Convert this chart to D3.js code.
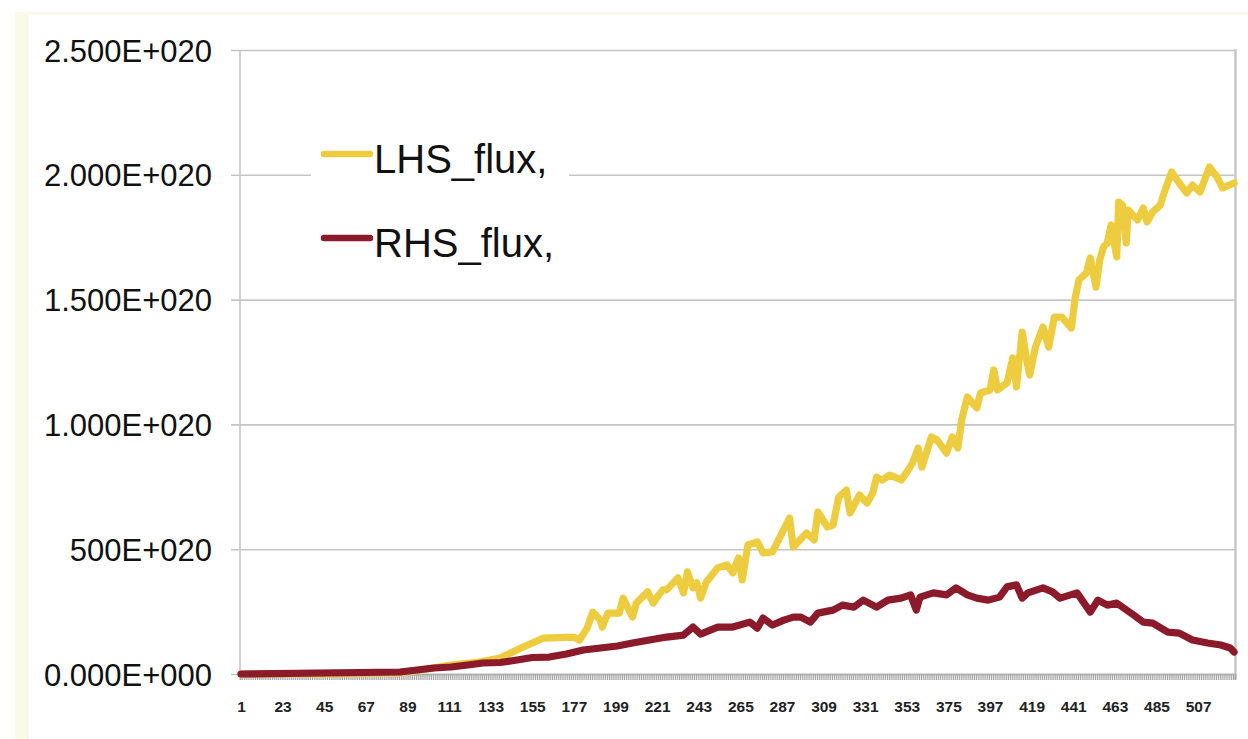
<!DOCTYPE html>
<html>
<head>
<meta charset="utf-8">
<script src="https://cdn.jsdelivr.net/npm/d3@7"></script>
<style>
  html, body { margin: 0; padding: 0; background: #ffffff; }
  svg { display: block; }
</style>
</head>
<body>
<svg id="chart" width="1248" height="739"></svg>
<script>
// ---------------- DATA ----------------
const N_CATEGORIES = 526;
const xTickLabels = [1, 23, 45, 67, 89, 111, 133, 155, 177, 199, 221, 243, 265, 287,
                     309, 331, 353, 375, 397, 419, 441, 463, 485, 507];
const UNIT = 1e20;
const yTickValues = [0, 0.5, 1.0, 1.5, 2.0, 2.5];           // x 1e20
const yTickLabels = ["0.000E+000", "500E+020", "1.000E+020", "1.500E+020", "2.000E+020", "2.500E+020"];
const seriesNames = ["LHS_flux,", "RHS_flux,"];
const seriesColors = ["#edcd3f", "#8b1a2a"];

// LHS_flux (values x 1e20) at category numbers
const lhsCat = [1, 48, 69, 85, 96, 112, 127, 138, 149, 155, 161, 177, 180, 184, 187,
  191, 192, 195, 201, 203, 208, 210, 216, 219, 221, 224, 226, 232, 235, 237,
  240, 242, 244, 247, 253, 258, 261, 264, 266, 269, 274, 277, 282, 286, 291,
  293, 300, 304, 306, 311, 314, 317, 321, 323, 328, 332, 335, 337, 340, 344,
  350, 353, 356, 359, 361, 366, 369, 374, 377, 380, 382, 385, 390, 392, 397,
  399, 401, 406, 409, 411, 414, 417, 418, 421, 425, 428, 431, 435, 440, 442,
  444, 448, 450, 453, 455, 457, 459, 461, 464, 465, 467, 469, 470, 475, 478,
  480, 483, 487, 489, 493, 497, 501, 504, 508, 510, 513, 517, 520, 526];
const lhsVal = [0, 0, 0.003, 0.004, 0.016, 0.036, 0.048, 0.064, 0.104, 0.124, 0.144, 0.148, 0.136, 0.184, 0.248,
  0.216, 0.188, 0.244, 0.244, 0.304, 0.228, 0.284, 0.329, 0.284, 0.308, 0.337, 0.337, 0.385, 0.325, 0.409,
  0.345, 0.365, 0.304, 0.369, 0.425, 0.437, 0.405, 0.465, 0.377, 0.517, 0.529, 0.485, 0.489, 0.549, 0.625,
  0.509, 0.565, 0.537, 0.649, 0.589, 0.597, 0.709, 0.737, 0.645, 0.717, 0.685, 0.725, 0.789, 0.777, 0.797,
  0.777, 0.809, 0.845, 0.905, 0.829, 0.950, 0.938, 0.885, 0.950, 0.905, 1.018, 1.110, 1.066, 1.126, 1.138,
  1.218, 1.138, 1.166, 1.266, 1.150, 1.370, 1.230, 1.198, 1.310, 1.390, 1.310, 1.430, 1.430, 1.386, 1.506,
  1.579, 1.607, 1.667, 1.550, 1.659, 1.711, 1.727, 1.799, 1.671, 1.891, 1.879, 1.727, 1.859, 1.819, 1.867,
  1.811, 1.851, 1.879, 1.927, 2.011, 1.967, 1.927, 1.959, 1.931, 1.971, 2.031, 1.991, 1.947, 1.967];

// RHS_flux (values x 1e20) at category numbers
const rhsCat = [1, 85, 94, 103, 112, 121, 129, 138, 147, 155, 164, 173, 182, 191, 200,
  208, 217, 226, 235, 240, 244, 253, 261, 270, 274, 277, 282, 288, 293, 297,
  302, 306, 314, 319, 325, 330, 337, 343, 350, 355, 358, 360, 367, 374, 379,
  385, 390, 396, 402, 406, 411, 414, 417, 425, 430, 434, 443, 450, 454, 459,
  464, 473, 478, 483, 491, 497, 504, 512, 519, 524, 526];
const rhsVal = [0, 0.008, 0.016, 0.024, 0.028, 0.036, 0.044, 0.046, 0.056, 0.066, 0.068, 0.080, 0.096, 0.104, 0.112,
  0.124, 0.136, 0.148, 0.156, 0.188, 0.160, 0.188, 0.188, 0.208, 0.184, 0.224, 0.196, 0.216, 0.228, 0.228,
  0.208, 0.244, 0.256, 0.276, 0.268, 0.296, 0.268, 0.296, 0.304, 0.317, 0.256, 0.308, 0.325, 0.317, 0.345,
  0.317, 0.304, 0.296, 0.308, 0.349, 0.357, 0.304, 0.325, 0.345, 0.329, 0.304, 0.325, 0.248, 0.296, 0.276,
  0.284, 0.236, 0.208, 0.204, 0.168, 0.164, 0.136, 0.124, 0.116, 0.104, 0.088];

// ---------------- LAYOUT ----------------
const W = 1248, H = 739;
const plot = { left: 240, right: 1235, top: 50, bottom: 674 };
const FONT = "'Liberation Sans', Arial, Helvetica, sans-serif";

const svg = d3.select("#chart");

// background frame (light cream strips)
svg.append("rect").attr("x", 0).attr("y", 0).attr("width", W).attr("height", H).attr("fill", "#ffffff");
svg.append("rect").attr("x", 15).attr("y", 12).attr("width", W - 15).attr("height", 3).attr("fill", "#fafaea");
svg.append("rect").attr("x", 15).attr("y", 12).attr("width", 14).attr("height", H - 12).attr("fill", "#fafaea");

const x = d3.scaleLinear().domain([0.5, N_CATEGORIES + 0.5]).range([plot.left, plot.right]);
const y = d3.scaleLinear().domain([0, 2.5 * UNIT]).range([plot.bottom, plot.top]);

// gridlines + y labels
const gridColor = "#c6c6c6";
const yAxis = d3.axisLeft(y)
  .tickValues(yTickValues.map(v => v * UNIT))
  .tickSize(-(plot.right - plot.left) - 9)
  .tickFormat((d, i) => yTickLabels[i]);
const gy = svg.append("g").attr("transform", `translate(${plot.left - 9},0)`).call(yAxis);
gy.select(".domain").remove();
gy.selectAll(".tick line").attr("stroke", gridColor).attr("stroke-width", 1.6)
  .attr("x1", 0).attr("x2", plot.right - plot.left + 9);
gy.selectAll(".tick text")
  .attr("x", -(plot.left - 9 - 212))
  .attr("dy", "0.36em")
  .attr("text-anchor", "end")
  .style("font-family", FONT).style("font-size", "31px").attr("fill", "#111");

// left axis + right border
svg.append("line").attr("x1", plot.left).attr("x2", plot.left).attr("y1", plot.top).attr("y2", plot.bottom)
  .attr("stroke", gridColor).attr("stroke-width", 1.6);
svg.append("line").attr("x1", plot.right + 0.5).attr("x2", plot.right + 0.5).attr("y1", plot.top - 0.8).attr("y2", plot.bottom + 5)
  .attr("stroke", gridColor).attr("stroke-width", 2.4);

// x axis: tick at every category boundary (dense, forms the grey band)
const boundaries = d3.range(0, N_CATEGORIES + 1).map(i => i + 0.5);
const xAxisTicks = d3.axisBottom(x).tickValues(boundaries).tickSize(6).tickFormat("");
const gxt = svg.append("g").attr("transform", `translate(0,${plot.bottom})`).call(xAxisTicks);
gxt.select(".domain").attr("stroke", "#c0c0c0").attr("stroke-width", 2);
gxt.selectAll(".tick line").attr("stroke", "#a8a8a8").attr("stroke-width", 1.2);

// x labels
const xAxisLabels = d3.axisBottom(x).tickValues(xTickLabels).tickSize(0).tickFormat(d3.format("d"));
const gxl = svg.append("g").attr("transform", `translate(0,${plot.bottom})`).call(xAxisLabels);
gxl.select(".domain").remove();
gxl.selectAll(".tick text").attr("y", 0).attr("dy", "37.5px")
  .style("font-family", FONT).style("font-size", "15.5px").style("font-weight", "bold").attr("fill", "#222");

// series
const series = [
  d3.zip(lhsCat, lhsVal),
  d3.zip(rhsCat, rhsVal)
];
const line = d3.line().x(d => x(d[0])).y(d => y(d[1] * UNIT));
series.forEach((s, i) => {
  svg.append("path").datum(s)
    .attr("d", line)
    .attr("fill", "none")
    .attr("stroke", seriesColors[i])
    .attr("stroke-width", 7.2)
    .attr("stroke-linejoin", "round")
    .attr("stroke-linecap", "round");
});

// legend
const lg = svg.append("g");
lg.append("rect").attr("x", 311).attr("y", 125).attr("width", 258).attr("height", 150).attr("fill", "#ffffff");
const rowY = [154, 238];
seriesNames.forEach((name, i) => {
  lg.append("line").attr("x1", 324).attr("x2", 370).attr("y1", rowY[i]).attr("y2", rowY[i])
    .attr("stroke", seriesColors[i]).attr("stroke-width", 6.5).attr("stroke-linecap", "round");
  lg.append("text").attr("x", 374).attr("y", rowY[i] + 19)
    .style("font-family", FONT).style("font-size", "40px").attr("fill", "#111")
    .text(name);
});
</script>
</body>
</html>
